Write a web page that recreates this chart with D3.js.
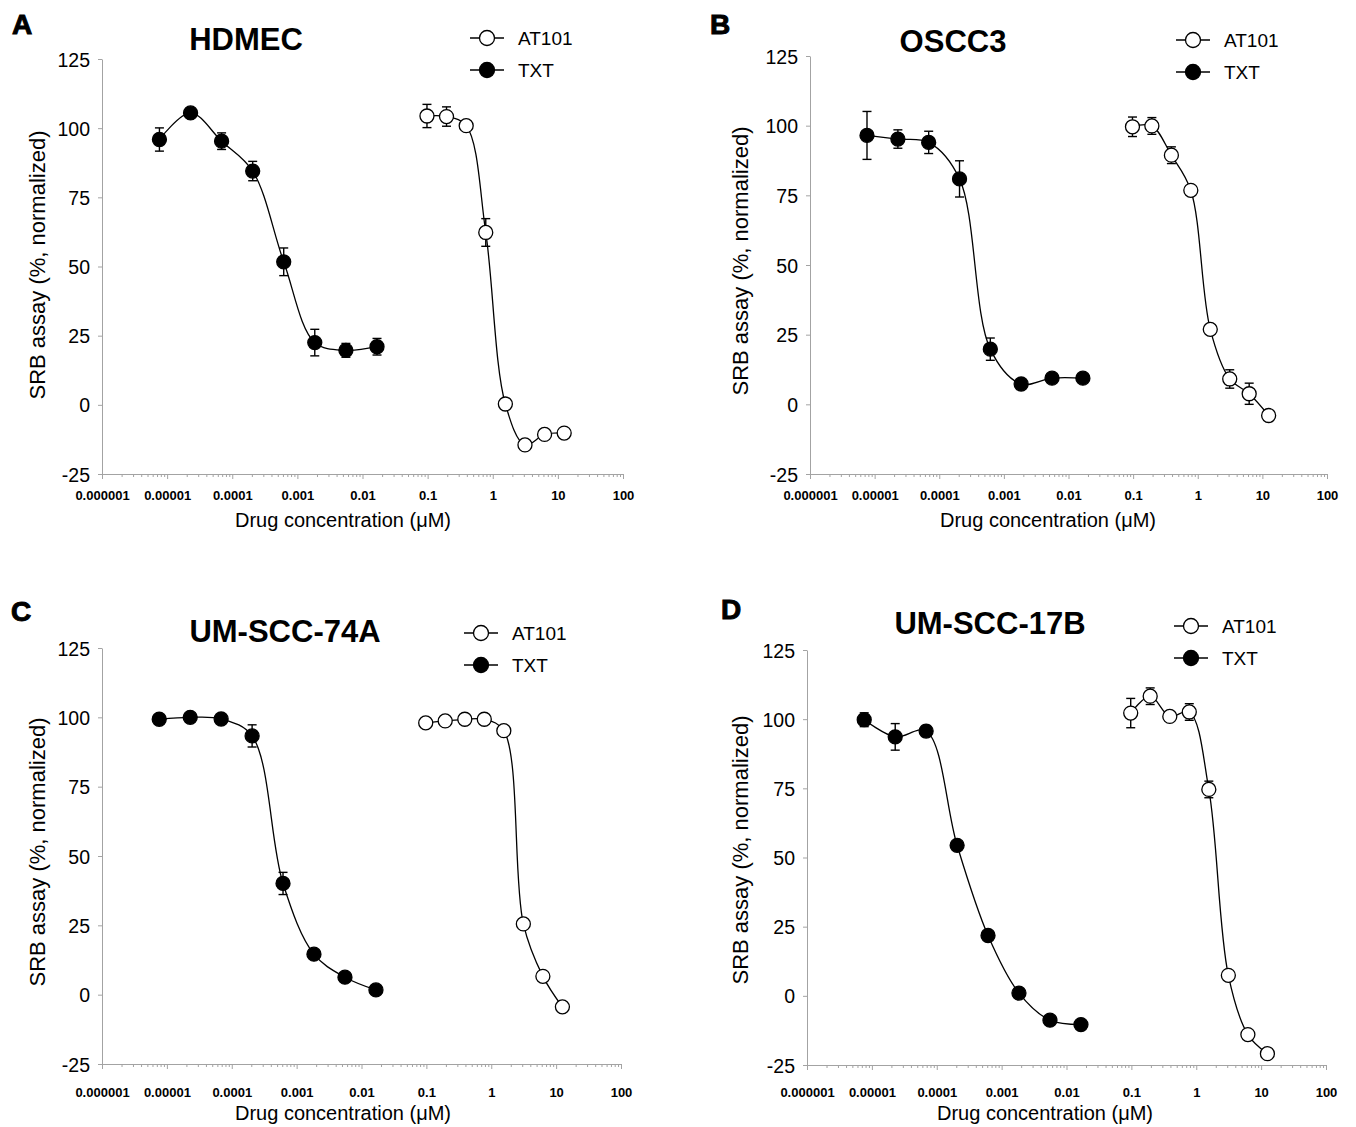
<!DOCTYPE html>
<html>
<head>
<meta charset="utf-8">
<script src="https://cdn.jsdelivr.net/npm/d3@7"></script>
<style>
  body { margin: 0; background: #fff; }
  svg text { font-family: "Liberation Sans", Arial, sans-serif; fill: #000; }
</style>
</head>
<body>
<svg id="chart"></svg>
<script>
//======
// Data
//======

// drug concentrations (uM), same dilution series in every panel
var txtConc = [0.00000762, 0.0000229, 0.0000686, 0.000206, 0.000617, 0.00185, 0.00556, 0.0167];
var at101Conc = [0.0977, 0.195, 0.391, 0.781, 1.5625, 3.125, 6.25, 12.5];

var yTicks = [-25, 0, 25, 50, 75, 100, 125];
var xTickLabels = ["0.000001", "0.00001", "0.0001", "0.001", "0.01", "0.1", "1", "10", "100"];

var panelLetters = ["A", "B", "C", "D"];
var cellLines = ["HDMEC", "OSCC3", "UM-SCC-74A", "UM-SCC-17B"];
var seriesNames = ["AT101", "TXT"];

// SRB assay (%, normalized), mean and error
var hdmecTxt = [95.9, 105.5, 95.3, 84.5, 51.7, 22.5, 19.7, 21.0];
var hdmecTxtErr = [4.2, 1.2, 3, 3.5, 5, 4.8, 2.5, 3];
var hdmecAt101 = [104.4, 104.2, 100.9, 62.3, 0.3, -14.5, -10.7, -10.2];
var hdmecAt101Err = [4.2, 3.5, 0, 5, 0, 0, 0, 0];

var oscc3Txt = [96.5, 95.2, 94.0, 80.9, 19.8, 7.3, 9.4, 9.4];
var oscc3TxtErr = [8.6, 3.3, 4, 6.5, 4, 0, 0, 0];
var oscc3At101 = [99.6, 99.9, 89.4, 76.8, 26.9, 9.1, 3.8, -4.0];
var oscc3At101Err = [3.5, 3, 3, 0, 0, 3.3, 3.8, 0];

var scc74aTxt = [99.3, 100, 99.4, 93.3, 40.1, 14.6, 6.3, 1.7];
var scc74aTxtErr = [0, 0, 0, 4, 4, 0, 0, 0];
var scc74aAt101 = [98, 98.7, 99.3, 99.3, 95.2, 25.5, 6.6, -4.4];
var scc74aAt101Err = [0, 0, 0, 0, 1.5, 0, 0, 0];

var scc17bTxt = [99.8, 93.6, 95.7, 54.4, 21.8, 1.0, -8.8, -10.4];
var scc17bTxtErr = [2.5, 4.8, 2, 0, 0, 0, 0, 0];
var scc17bAt101 = [102.2, 108.3, 101, 102.6, 74.6, 7.4, -14, -20.9];
var scc17bAt101Err = [5.3, 3, 0, 3, 3, 0, 0, 0];

var panelTxt = [hdmecTxt, oscc3Txt, scc74aTxt, scc17bTxt];
var panelTxtErr = [hdmecTxtErr, oscc3TxtErr, scc74aTxtErr, scc17bTxtErr];
var panelAt101 = [hdmecAt101, oscc3At101, scc74aAt101, scc17bAt101];
var panelAt101Err = [hdmecAt101Err, oscc3At101Err, scc74aAt101Err, scc17bAt101Err];

//========
// Layout
//========

var width = 1356, height = 1127;
var axisColor = "#a3a3a3";

var layout = [
  { x0: 102, x1: 623, y0: 59, y1: 474, letter: [12, 34], title: [246, 50], legend: [487, 38], yTitle: [37, 265], xTitle: 343, xLab: 26, xTitleY: 53 },
  { x0: 810, x1: 1327, y0: 56, y1: 474, letter: [710, 34], title: [953, 52], legend: [1193, 40], yTitle: [740, 261], xTitle: 1048, xLab: 26, xTitleY: 53 },
  { x0: 102, x1: 621, y0: 648, y1: 1064, letter: [11, 621], title: [285, 642], legend: [481, 633], yTitle: [37, 852], xTitle: 343, xLab: 33, xTitleY: 56 },
  { x0: 807, x1: 1326, y0: 650, y1: 1065, letter: [721, 619], title: [990, 634], legend: [1191, 626], yTitle: [740, 850], xTitle: 1045, xLab: 32, xTitleY: 55 }
];

var svg = d3.select("#chart")
  .attr("width", width)
  .attr("height", height);

// all log ticks 1..9 per decade
var logTicks = [];
for (var e = -6; e < 2; e++) {
  for (var k = 1; k < 10; k++) logTicks.push(k * Math.pow(10, e));
}
logTicks.push(100);

function isDecade(d) {
  var l = Math.log10(d);
  return Math.abs(l - Math.round(l)) < 1e-9;
}

var line = d3.line()
  .curve(d3.curveCatmullRom.alpha(0.5));

panelLetters.forEach(function(letter, i) {
  var L = layout[i];
  var g = svg.append("g");

  var x = d3.scaleLog().domain([1e-6, 100]).range([L.x0, L.x1]);
  var y = d3.scaleLinear().domain([-25, 125]).range([L.y1, L.y0]);

  // Y-Axis
  var yAxis = g.append("g")
    .attr("transform", "translate(" + L.x0 + ",0)")
    .call(d3.axisLeft(y).tickValues(yTicks).tickSize(4).tickPadding(8).tickSizeOuter(0)
      .tickFormat(function(d) { return String(d); }));
  yAxis.select(".domain").attr("stroke", axisColor);
  yAxis.selectAll(".tick line").attr("stroke", axisColor);
  yAxis.selectAll(".tick text")
    .attr("fill", "#000")
    .attr("dy", "0.36em")
    .style("font-size", "19.5px")
    .style("font-family", "'Liberation Sans', Arial, sans-serif");

  // X-Axis (log, minor ticks)
  var xAxis = g.append("g")
    .attr("transform", "translate(0," + L.y1 + ")")
    .call(d3.axisBottom(x).tickValues(logTicks).tickSize(4).tickSizeOuter(0)
      .tickFormat(function(d) {
        return isDecade(d) ? xTickLabels[Math.round(Math.log10(d)) + 6] : "";
      }));
  xAxis.select(".domain").attr("stroke", axisColor);
  xAxis.selectAll(".tick line")
    .attr("stroke", axisColor)
    .attr("y2", function(d) { return isDecade(d) ? 5 : 3; });
  xAxis.selectAll(".tick text")
    .attr("fill", "#000")
    .attr("y", L.xLab)
    .attr("dy", 0)
    .style("font-size", "13px")
    .style("font-weight", "bold")
    .style("font-family", "'Liberation Sans', Arial, sans-serif");

  // axis titles
  g.append("text")
    .attr("x", L.xTitle)
    .attr("y", L.y1 + L.xTitleY)
    .attr("text-anchor", "middle")
    .style("font-size", "20px")
    .text("Drug concentration (\u03BCM)");

  g.append("text")
    .attr("transform", "translate(" + L.yTitle[0] + "," + L.yTitle[1] + ") rotate(-90)")
    .attr("text-anchor", "middle")
    .attr("dy", "0.35em")
    .style("font-size", "22px")
    .text("SRB assay (%, normalized)");

  // panel letter and title
  g.append("text")
    .attr("x", L.letter[0])
    .attr("y", L.letter[1])
    .style("font-size", "28px")
    .style("font-weight", "bold")
    .attr("stroke", "#000")
    .attr("stroke-width", 1)
    .text(letter);

  g.append("text")
    .attr("x", L.title[0])
    .attr("y", L.title[1])
    .attr("text-anchor", "middle")
    .style("font-size", "31px")
    .style("font-weight", "bold")
    .text(cellLines[i]);

  // series
  var series = [
    { conc: at101Conc, vals: panelAt101[i], err: panelAt101Err[i], fill: "#fff" },
    { conc: txtConc, vals: panelTxt[i], err: panelTxtErr[i], fill: "#000" }
  ];

  series.forEach(function(s) {
    var pts = s.vals.map(function(v, j) { return [x(s.conc[j]), y(v), s.err[j], v]; });

    g.append("path")
      .attr("d", line(pts.map(function(p) { return [p[0], p[1]]; })))
      .attr("fill", "none")
      .attr("stroke", "#000")
      .attr("stroke-width", 1.3);

    var eb = g.selectAll(null)
      .data(pts.filter(function(p) { return p[2] > 0; }))
      .enter()
      .append("g")
      .attr("stroke", "#000")
      .attr("stroke-width", 1.4);
    eb.append("line")
      .attr("x1", function(p) { return p[0]; })
      .attr("x2", function(p) { return p[0]; })
      .attr("y1", function(p) { return y(p[3] - p[2]); })
      .attr("y2", function(p) { return y(p[3] + p[2]); });
    [-1, 1].forEach(function(sgn) {
      eb.append("line")
        .attr("x1", function(p) { return p[0] - 4.5; })
        .attr("x2", function(p) { return p[0] + 4.5; })
        .attr("y1", function(p) { return y(p[3] + sgn * p[2]); })
        .attr("y2", function(p) { return y(p[3] + sgn * p[2]); });
    });

    g.selectAll(null)
      .data(pts)
      .enter()
      .append("circle")
      .attr("cx", function(p) { return p[0]; })
      .attr("cy", function(p) { return p[1]; })
      .attr("r", 7)
      .attr("fill", s.fill)
      .attr("stroke", "#000")
      .attr("stroke-width", 1.3);
  });

  // legend
  seriesNames.forEach(function(name, j) {
    var cx = L.legend[0], cy = L.legend[1] + j * 32;
    g.append("line")
      .attr("x1", cx - 17).attr("x2", cx + 17)
      .attr("y1", cy).attr("y2", cy)
      .attr("stroke", "#000")
      .attr("stroke-width", 1.3);
    g.append("circle")
      .attr("cx", cx).attr("cy", cy)
      .attr("r", 7.5)
      .attr("fill", j === 0 ? "#fff" : "#000")
      .attr("stroke", "#000")
      .attr("stroke-width", 1.3);
    g.append("text")
      .attr("x", cx + 31)
      .attr("y", cy + 7)
      .style("font-size", "19px")
      .text(name);
  });
});
</script>
</body>
</html>
